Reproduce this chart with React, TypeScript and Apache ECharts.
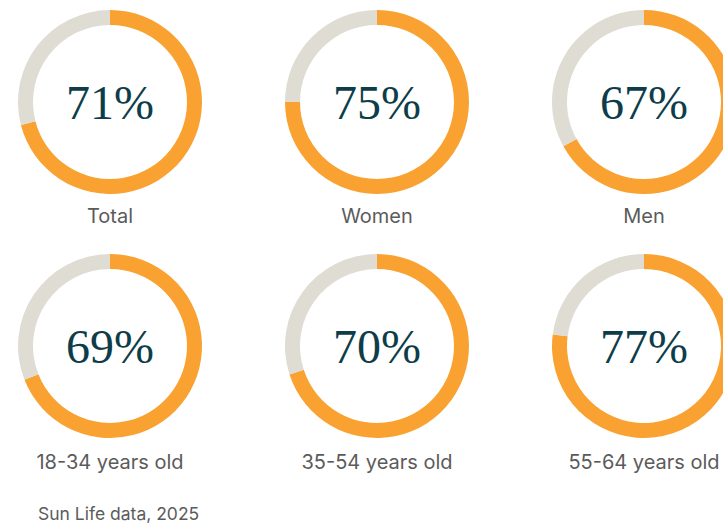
import React, { useEffect, useRef } from "react";
import * as echarts from "echarts";

const categories = ["Total", "Women", "Men", "18-34 years old", "35-54 years old", "55-64 years old"];
const values = [71, 75, 67, 69, 70, 77];
const footer = "Sun Life data, 2025";

const ORANGE = "#F9A131";
const GRAY = "#DFDCD3";
const TEAL = "#0E3D4A";
const LABEL = "#5B5B5B";

const colX = [110, 377, 644];
const rowY = [102, 346];
const labelY = [216, 462];

export default function App() {
  const ref = useRef<HTMLDivElement>(null);
  useEffect(() => {
    document.body.style.margin = "0";
    const chart = echarts.init(ref.current!, undefined, { renderer: "svg" });
    const series = categories.map((name, i) => {
      const cx = colX[i % 3];
      const cy = rowY[Math.floor(i / 3)];
      return {
        type: "pie",
        name,
        center: [cx, cy],
        radius: [77, 92],
        startAngle: 90,
        clockwise: true,
        silent: true,
        avoidLabelOverlap: false,
        labelLine: { show: false },
        emphasis: { disabled: true },
        data: [
          {
            value: values[i],
            name: name,
            itemStyle: { color: ORANGE },
            label: {
              show: true,
              position: "center",
              formatter: "{c}%",
              fontFamily: "Liberation Serif",
              fontSize: 48,
              color: TEAL,
            },
          },
          {
            value: 100 - values[i],
            name: "rest",
            itemStyle: { color: GRAY },
            label: { show: false },
          },
        ],
      };
    });
    const graphic: any[] = categories.map((name, i) => ({
      type: "text",
      x: colX[i % 3],
      y: labelY[Math.floor(i / 3)],
      style: {
        text: name,
        fontFamily: "Inter",
        fontSize: 20,
        fill: LABEL,
        textAlign: "center",
        textVerticalAlign: "middle",
      },
    }));
    graphic.push({
      type: "text",
      x: 38,
      y: 513,
      style: {
        text: footer,
        fontFamily: "Inter",
        fontSize: 17.5,
        fill: LABEL,
        textAlign: "left",
        textVerticalAlign: "middle",
      },
    });
    chart.setOption({
      animation: false,
      backgroundColor: "#ffffff",
      series,
      graphic,
    });
    return () => chart.dispose();
  }, []);
  return (
    <div
      ref={ref}
      style={{ position: "fixed", left: 0, top: 0, width: 723, height: 525 }}
    />
  );
}
